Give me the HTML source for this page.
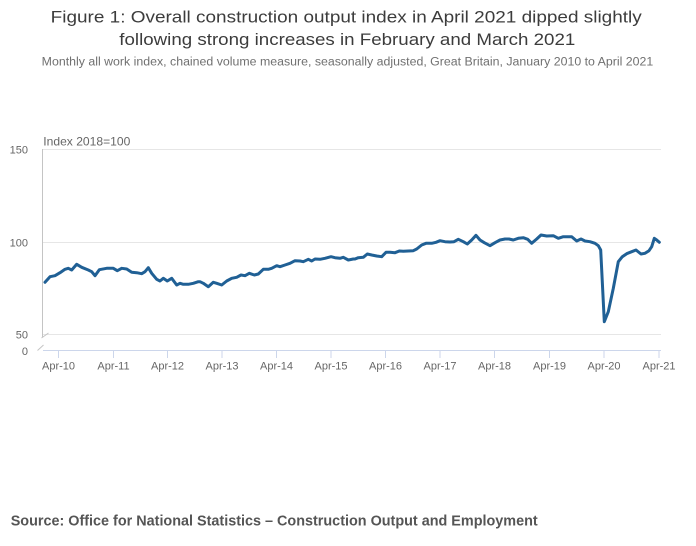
<!DOCTYPE html>
<html><head><meta charset="utf-8"><style>
html,body{margin:0;padding:0;background:#fff;}
svg{display:block;}
text{font-family:"Liberation Sans",Arial,sans-serif;}
</style></head><body>
<svg width="696" height="546" viewBox="0 0 696 546" xmlns="http://www.w3.org/2000/svg">
<rect width="696" height="546" fill="#fff"/>
<text x="50.7" y="22.3" font-size="17" fill="#3c3c3c" textLength="591" lengthAdjust="spacingAndGlyphs">Figure 1: Overall construction output index in April 2021 dipped slightly</text>
<text x="119.3" y="45" font-size="17" fill="#3c3c3c" textLength="456" lengthAdjust="spacingAndGlyphs">following strong increases in February and March 2021</text>
<text x="41.7" y="65.5" font-size="11.5" fill="#707070" textLength="611.6" lengthAdjust="spacingAndGlyphs">Monthly all work index, chained volume measure, seasonally adjusted, Great Britain, January 2010 to April 2021</text>

<g stroke="#e6e6e6" stroke-width="1">
<line x1="42" y1="149.5" x2="661" y2="149.5"/>
<line x1="42" y1="242.5" x2="661" y2="242.5"/>
<line x1="42" y1="334.5" x2="661" y2="334.5"/>
</g>
<line x1="42.5" y1="149" x2="42.5" y2="337.5" stroke="#c4c4c4" stroke-width="1"/>
<line x1="41.5" y1="338" x2="48.5" y2="333" stroke="#c4c4c4" stroke-width="1"/>
<line x1="37.5" y1="350.5" x2="43.5" y2="345" stroke="#c4c4c4" stroke-width="1"/>
<line x1="43" y1="350.5" x2="661" y2="350.5" stroke="#ccd6eb" stroke-width="1"/>
<g stroke="#ccd6eb" stroke-width="1">
<line x1="58.5" y1="350" x2="58.5" y2="358"/>
<line x1="113.5" y1="350" x2="113.5" y2="358"/>
<line x1="167.5" y1="350" x2="167.5" y2="358"/>
<line x1="222" y1="350" x2="222" y2="358"/>
<line x1="276.5" y1="350" x2="276.5" y2="358"/>
<line x1="331" y1="350" x2="331" y2="358"/>
<line x1="385.5" y1="350" x2="385.5" y2="358"/>
<line x1="440" y1="350" x2="440" y2="358"/>
<line x1="494.5" y1="350" x2="494.5" y2="358"/>
<line x1="549.5" y1="350" x2="549.5" y2="358"/>
<line x1="604" y1="350" x2="604" y2="358"/>
<line x1="659" y1="350" x2="659" y2="358"/>
</g>
<g font-size="11" fill="#666" text-anchor="middle">
<text x="58.5" y="369.5">Apr-10</text>
<text x="113.5" y="369.5">Apr-11</text>
<text x="167.5" y="369.5">Apr-12</text>
<text x="222" y="369.5">Apr-13</text>
<text x="276.5" y="369.5">Apr-14</text>
<text x="331" y="369.5">Apr-15</text>
<text x="385.5" y="369.5">Apr-16</text>
<text x="440" y="369.5">Apr-17</text>
<text x="494.5" y="369.5">Apr-18</text>
<text x="549.5" y="369.5">Apr-19</text>
<text x="604" y="369.5">Apr-20</text>
<text x="659" y="369.5">Apr-21</text>
</g>
<g font-size="11" fill="#666" text-anchor="end">
<text x="28" y="153.5">150</text>
<text x="28" y="246.5">100</text>
<text x="28" y="338.5">50</text>
<text x="28" y="355">0</text>
</g>
<text x="43.3" y="145.7" font-size="12" fill="#666" textLength="87" lengthAdjust="spacingAndGlyphs">Index 2018=100</text>

<polyline fill="none" stroke="#206095" stroke-width="3" stroke-linejoin="round" stroke-linecap="round" points="
45,282.3 50,276.7 55,275.7 60,272.7 65,269.3 68.3,268.3 71.7,270 76.7,264.3 81.7,267.3 88.3,270 91.7,271.7 95,275.7 99.3,269.7 106.7,268.3 113.3,268.3 117.3,270.7 121.7,268.3 126.7,269 131.7,272.3 136.7,272.7 141.7,273.7 145,271.7 148.3,267.7 151.7,273.3 156.7,279.3 160,281 163.3,278.3 167.3,281 171.7,278.3 176.7,285 180,283.3 183.3,284.3 188.3,284.3 193.3,283.3 198.3,281.7 200,281.7 203.3,283.3 208.3,286.7 213.3,282.3 216.7,283.3 221.7,285 226.7,281 231.7,278.3 236.7,277.3 241,275 245,275.7 249.3,273.3 254.3,275 258.3,274 263.3,269.3 268.3,269.3 271.7,268.3 276.7,265.7 280,266.7 285,265 290,263.3 295,260.7 300,261 303.3,261.7 308.3,259.3 311.7,261 315,259 320,259.3 325,258.3 331,256.7 335,257.7 340,258.3 343.3,257.3 348.3,260 353.3,259 355,259 358.3,257.7 363.3,257.3 367.3,254 371.7,255 376.7,256 381.7,256.7 386,252.3 390,252.3 395,252.7 399.3,251 403.3,251.3 408.3,251 413.3,250.7 416.7,249 421.7,245 426,243.3 431.7,243.3 436,242.3 440,240.7 445,241.7 450,242 454,241.7 458.3,239.3 463.3,241.7 467.3,244 471.7,240 476,235.3 480,240 484.3,242.7 490,245.7 495,242.7 500,240 505,239 509,239 513.3,240 518.3,238.3 523.3,237.7 527.7,239.3 531.7,243.3 536.7,239 541,235 546.7,236 553.3,235.7 558.3,238.3 563.3,236.7 571.7,236.7 576.7,241 581,239 585,241 590,241.7 595,243.3 598.3,245.7 600.7,250 604.3,321.7 608.3,311.7 613.3,288.3 618.3,261.7 622.3,256.7 626.7,253.7 631.7,251.7 636,250 641,254 645,253.3 649,250.7 651.7,246.7 654.3,238.3 656.7,240 659.3,242.3"/>

<text x="10.7" y="525.5" font-size="14.5" font-weight="bold" fill="#555" textLength="527" lengthAdjust="spacingAndGlyphs">Source: Office for National Statistics – Construction Output and Employment</text>
</svg>
</body></html>
